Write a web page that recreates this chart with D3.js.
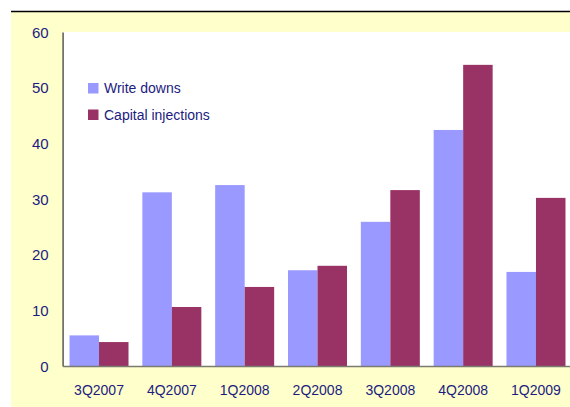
<!DOCTYPE html>
<html>
<head>
<meta charset="utf-8">
<script src="https://cdn.jsdelivr.net/npm/d3@7"></script>
<style>
  html, body { margin: 0; padding: 0; background: #ffffff; }
  svg { display: block; }
  text { font-family: "Liberation Sans", Arial, sans-serif; fill: #1c1c80; }
</style>
</head>
<body>
<svg id="chart" width="570" height="407"></svg>
<script>
const categories = ["3Q2007", "4Q2007", "1Q2008", "2Q2008", "3Q2008", "4Q2008", "1Q2009"];
const seriesNames = ["Write downs", "Capital injections"];
const writeDowns = [5.5, 31.2, 32.5, 17.2, 25.9, 42.4, 16.9];
const capitalInjections = [4.3, 10.6, 14.2, 18.0, 31.6, 54.1, 30.2];
const yTicks = [0, 10, 20, 30, 40, 50, 60];
const colors = ["#9999ff", "#993366"];

const svg = d3.select("#chart");
const W = 570, H = 407;

// outer yellow frame
svg.append("rect").attr("x", 11).attr("y", 12).attr("width", W - 11).attr("height", H - 12).attr("fill", "#ffffcc");
svg.append("line").attr("x1", 11).attr("x2", W).attr("y1", 11.5).attr("y2", 11.5).attr("stroke", "#000").attr("stroke-width", 1.5);

const plotLeft = 62.6, plotRight = 572.4, plotTop = 32, plotBottom = 366;

// white plot area
svg.append("rect").attr("x", plotLeft).attr("y", plotTop).attr("width", plotRight - plotLeft).attr("height", plotBottom - plotTop).attr("fill", "#ffffff");

const y = d3.scaleLinear().domain([0, 60]).range([plotBottom, plotTop]);
const x0 = d3.scaleBand().domain(categories).range([plotLeft, plotRight]).paddingInner(0.19).paddingOuter(0.095);
const x1 = d3.scaleBand().domain(seriesNames).range([0, x0.bandwidth()]);

const data = categories.map((c, i) => ({ cat: c, values: [writeDowns[i], capitalInjections[i]] }));

const groups = svg.append("g").selectAll("g").data(data).join("g")
  .attr("transform", d => `translate(${x0(d.cat)},0)`);
groups.selectAll("rect").data(d => d.values.map((v, j) => ({ name: seriesNames[j], v, j })))
  .join("rect")
  .attr("x", d => x1(d.name))
  .attr("width", x1.bandwidth())
  .attr("y", d => y(d.v))
  .attr("height", d => y(0) - y(d.v))
  .attr("fill", d => colors[d.j]);

// y axis
const yAxis = d3.axisLeft(y).tickValues(yTicks).tickSize(0).tickPadding(14);
const gy = svg.append("g").attr("transform", `translate(${plotLeft},0)`).call(yAxis);
gy.select(".domain").attr("stroke", "#5a5a50").attr("stroke-width", 1.5);
gy.selectAll("text").attr("font-size", 15).attr("fill", "#1c1c80").attr("dy", "0.35em");

// x axis
const xAxis = d3.axisBottom(x0).tickSize(0).tickPadding(19);
const gx = svg.append("g").attr("transform", `translate(0,${plotBottom})`).call(xAxis);
gx.select(".domain").attr("stroke", "#7a7a70").attr("stroke-width", 1.5);
gx.selectAll("text").attr("font-size", 14).attr("fill", "#1c1c80");

// legend
const legend = svg.append("g").attr("transform", "translate(88,83)");
seriesNames.forEach((n, i) => {
  const g = legend.append("g").attr("transform", `translate(0,${i * 26.5})`);
  g.append("rect").attr("width", 10.5).attr("height", 10.5).attr("fill", colors[i]);
  g.append("text").attr("x", 16).attr("y", 5.5).attr("dy", "0.35em").attr("font-size", 14).text(n);
});
</script>
</body>
</html>
